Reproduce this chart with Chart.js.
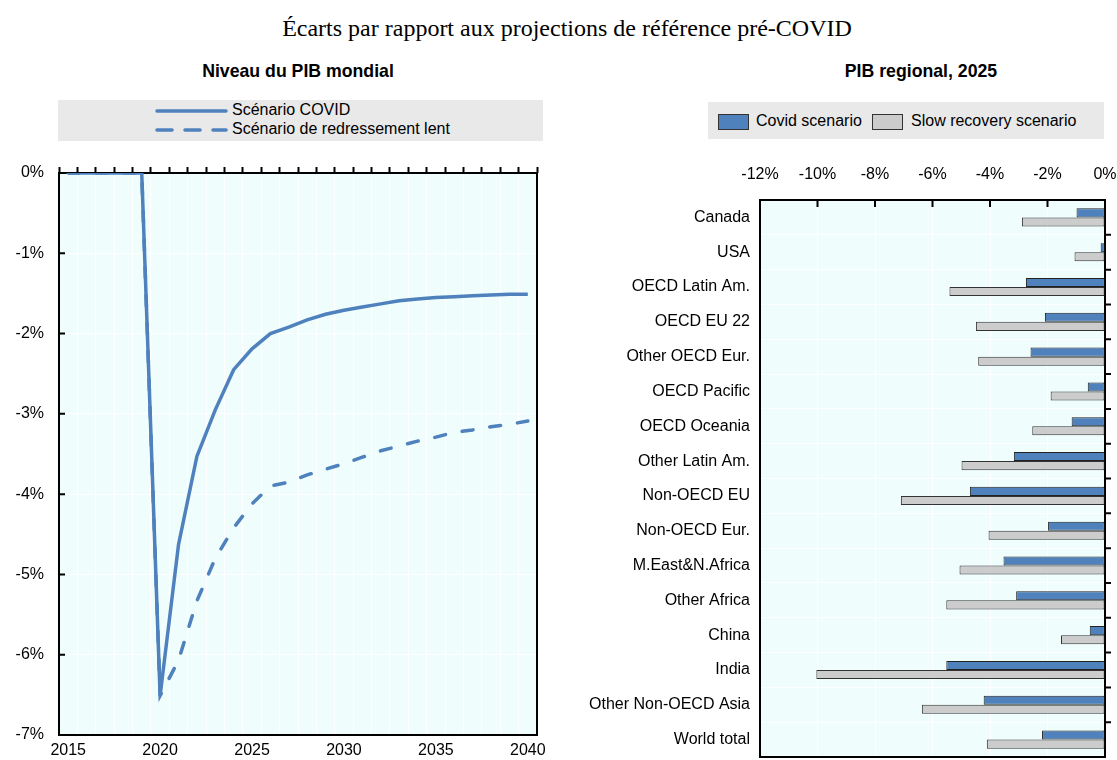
<!DOCTYPE html>
<html>
<head>
<meta charset="utf-8">
<script src="https://cdn.jsdelivr.net/npm/chart.js@4.4.0/dist/chart.umd.min.js"></script>
<style>
body { margin:0; width:1117px; height:760px; background:#fff; position:relative; overflow:hidden;
       font-family:'Liberation Sans', Arial, sans-serif; color:#000; }
.abs { position:absolute; }
#title { left:0; width:1134px; top:15px; text-align:center; font-family:'Liberation Serif','Times New Roman',serif; font-size:24px; }
.sub { top:61px; font-weight:bold; font-size:17.7px; text-align:center; width:400px; }
#legL { left:58px; top:100px; width:485px; height:41px; background:#e9e9e9; font-size:16px; }
#legL .row { position:absolute; left:97px; height:19px; line-height:19px; white-space:nowrap; }
#legL svg { vertical-align:middle; margin-right:4px; }
#legR { left:708px; top:102px; width:396px; height:37px; background:#e9e9e9; font-size:16px; }
.sw { position:absolute; top:12px; width:29px; height:14px; border:1px solid #333; }
.lt { position:absolute; top:9px; line-height:19px; white-space:nowrap; }
</style>
</head>
<body>
<div id="title" class="abs">Écarts par rapport aux projections de référence pré-COVID</div>
<div class="abs sub" style="left:98px">Niveau du PIB mondial</div>
<div class="abs sub" style="left:721px">PIB regional, 2025</div>

<div id="legL" class="abs">
  <div class="row" style="top:0px"><svg width="73" height="8"><line x1="2" y1="4" x2="71" y2="4" stroke="#4f81bd" stroke-width="3.5" stroke-linecap="round"/></svg>Scénario COVID</div>
  <div class="row" style="top:19px"><svg width="73" height="8"><line x1="2" y1="4" x2="71" y2="4" stroke="#4f81bd" stroke-width="3.5" stroke-linecap="round" stroke-dasharray="15 13"/></svg>Scénario de redressement lent</div>
</div>

<div id="legR" class="abs">
  <div class="sw" style="left:10px;background:#4f81bd"></div>
  <div class="lt" style="left:48px">Covid scenario</div>
  <div class="sw" style="left:164px;background:#cccccc"></div>
  <div class="lt" style="left:203px">Slow recovery scenario</div>
</div>

<div class="abs" style="left:0;top:150px"><canvas id="lineChart" width="560" height="610"></canvas></div>
<div class="abs" style="left:560px;top:150px"><canvas id="barChart" width="557" height="610"></canvas></div>

<script>
// world GDP level, deviation from pre-COVID baseline (%)
const years = [2015, 2016, 2017, 2018, 2019, 2020, 2021, 2022, 2023, 2024, 2025, 2026, 2027,
               2028, 2029, 2030, 2031, 2032, 2033, 2034, 2035, 2036, 2037, 2038, 2039, 2040];
const covidScenario = [0, 0, 0, 0, 0, -6.51, -4.63, -3.53, -2.95, -2.45, -2.19, -2.00, -1.92,
                       -1.83, -1.76, -1.71, -1.67, -1.63, -1.59, -1.57, -1.55, -1.54, -1.53, -1.52, -1.51, -1.51];
const slowRecovery = [0, 0, 0, 0, 0, -6.51, -6.07, -5.33, -4.80, -4.42, -4.12, -3.90, -3.85,
                      -3.76, -3.69, -3.62, -3.54, -3.46, -3.40, -3.34, -3.29, -3.23, -3.20, -3.16, -3.13, -3.09];

// regional GDP 2025 (%)
const regions = ['Canada', 'USA', 'OECD Latin Am.', 'OECD EU 22', 'Other OECD Eur.', 'OECD Pacific',
                 'OECD Oceania', 'Other Latin Am.', 'Non-OECD EU', 'Non-OECD Eur.', 'M.East&N.Africa',
                 'Other Africa', 'China', 'India', 'Other Non-OECD Asia', 'World total'];
const covidRegional = [-0.99, -0.15, -2.75, -2.09, -2.59, -0.60, -1.16, -3.17, -4.70, -1.98, -3.53,
                       -3.09, -0.53, -5.52, -4.22, -2.19];
const slowRegional = [-2.89, -1.06, -5.41, -4.49, -4.41, -1.89, -2.53, -4.99, -7.10, -4.05, -5.06,
                      -5.52, -1.53, -10.04, -6.37, -4.11];

const BLUE = '#4f81bd';
const PANEL = '#effdfd';

Chart.defaults.font.family = "'Liberation Sans', Arial, sans-serif";
Chart.defaults.font.size = 16;
Chart.defaults.color = '#000';

// fixed axis box size, no extra label overhang padding (layout.padding does that)
function fixBox(w, h) {
  return s => {
    if (w !== null) s.width = w;
    if (h !== null) s.height = h;
    s.paddingLeft = s.paddingRight = s.paddingTop = s.paddingBottom = 0;
  };
}

// light panel behind the plot area
const panelBg = {
  id: 'panelBg',
  beforeDraw(chart) {
    const {ctx, chartArea: a} = chart;
    ctx.save();
    ctx.fillStyle = PANEL;
    ctx.fillRect(a.left, a.top, a.right - a.left, a.bottom - a.top);
    ctx.restore();
  }
};

// black frame + inner ticks of the line chart
const lineFrame = {
  id: 'lineFrame',
  beforeDatasetsDraw(chart) {
    const {ctx, chartArea: a} = chart;
    const y = chart.scales.y;
    ctx.save();
    ctx.strokeStyle = '#000';
    ctx.lineWidth = 2;
    ctx.beginPath();
    y.ticks.forEach(t => {
      const py = y.getPixelForValue(t.value);
      ctx.moveTo(a.left, py);
      ctx.lineTo(a.left + 6, py);
    });
    ctx.stroke();
    ctx.strokeRect(a.left, a.top, a.right - a.left, a.bottom - a.top);
    ctx.restore();
  }
};

// black frame, inner top ticks and outer right ticks of the bar chart
const barFrame = {
  id: 'barFrame',
  beforeDatasetsDraw(chart) {
    const {ctx, chartArea: a} = chart;
    const x = chart.scales.x, y = chart.scales.y;
    ctx.save();
    ctx.strokeStyle = '#000';
    ctx.lineWidth = 2;
    ctx.beginPath();
    x.ticks.forEach(t => {
      const px = x.getPixelForValue(t.value);
      ctx.moveTo(px, a.top);
      ctx.lineTo(px, a.top + 7);
    });
    for (let i = 1; i < regions.length; i++) {
      const py = (y.getPixelForValue(i - 1) + y.getPixelForValue(i)) / 2;
      ctx.moveTo(a.right, py);
      ctx.lineTo(a.right + 6, py);
    }
    ctx.stroke();
    ctx.strokeRect(a.left, a.top, a.right - a.left, a.bottom - a.top);
    ctx.restore();
  }
};

new Chart(document.getElementById('lineChart'), {
  type: 'line',
  data: {
    labels: years,
    datasets: [{
      label: 'Scénario COVID',
      data: covidScenario,
      borderColor: BLUE,
      borderWidth: 3.5,
      pointRadius: 0,
      fill: false
    }, {
      label: 'Scénario de redressement lent',
      data: slowRecovery,
      borderColor: BLUE,
      borderWidth: 3.5,
      borderDash: [11, 17],
      borderCapStyle: 'round',
      pointRadius: 0,
      fill: false
    }]
  },
  options: {
    responsive: false,
    animation: false,
    layout: { padding: { left: 0, right: 23, top: 0, bottom: 0 } },
    plugins: { legend: { display: false }, tooltip: { enabled: false } },
    scales: {
      x: {
        type: 'category',
        position: 'bottom',
        offset: true,
        grid: { display: false, drawTicks: false },
        border: { display: false },
        ticks: {
          autoSkip: false,
          maxRotation: 0,
          padding: 6,
          callback: (v, i) => (years[i] % 5 === 0 ? String(years[i]) : '')
        },
        afterFit: fixBox(null, 25)
      },
      xTop: {
        type: 'category',
        position: 'top',
        offset: true,
        grid: { offset: true, color: '#ffffff', lineWidth: 1, drawTicks: true, tickLength: 6, tickColor: '#000', tickWidth: 2 },
        border: { display: false },
        ticks: { display: false },
        afterFit: fixBox(null, 23)
      },
      y: {
        min: -7,
        max: 0,
        ticks: { stepSize: 1, padding: 15, callback: v => v + '%' },
        grid: { color: '#ffffff', lineWidth: 1, drawTicks: false },
        border: { display: false },
        afterFit: fixBox(59, null)
      }
    }
  },
  plugins: [panelBg, lineFrame]
});

new Chart(document.getElementById('barChart'), {
  type: 'bar',
  data: {
    labels: regions,
    datasets: [{
      label: 'Covid scenario',
      data: covidRegional,
      backgroundColor: BLUE,
      borderColor: '#222',
      borderWidth: 1,
      borderSkipped: false
    }, {
      label: 'Slow recovery scenario',
      data: slowRegional,
      backgroundColor: '#cccccc',
      borderColor: '#333',
      borderWidth: 1,
      borderSkipped: false
    }]
  },
  options: {
    indexAxis: 'y',
    responsive: false,
    animation: false,
    categoryPercentage: 0.52,
    barPercentage: 1,
    layout: { padding: { left: 0, right: 12, top: 0, bottom: 3 } },
    plugins: { legend: { display: false }, tooltip: { enabled: false } },
    scales: {
      x: {
        position: 'top',
        min: -12,
        max: 0,
        ticks: { stepSize: 2, padding: 16, callback: v => v + '%' },
        grid: { color: '#ffffff', lineWidth: 1, drawTicks: false },
        border: { display: false },
        afterFit: fixBox(null, 50)
      },
      y: {
        position: 'left',
        grid: { offset: true, color: '#ffffff', lineWidth: 1, drawTicks: false },
        border: { display: false },
        ticks: { padding: 10, autoSkip: false },
        afterFit: fixBox(200, null)
      }
    }
  },
  plugins: [panelBg, barFrame]
});
</script>
</body>
</html>
